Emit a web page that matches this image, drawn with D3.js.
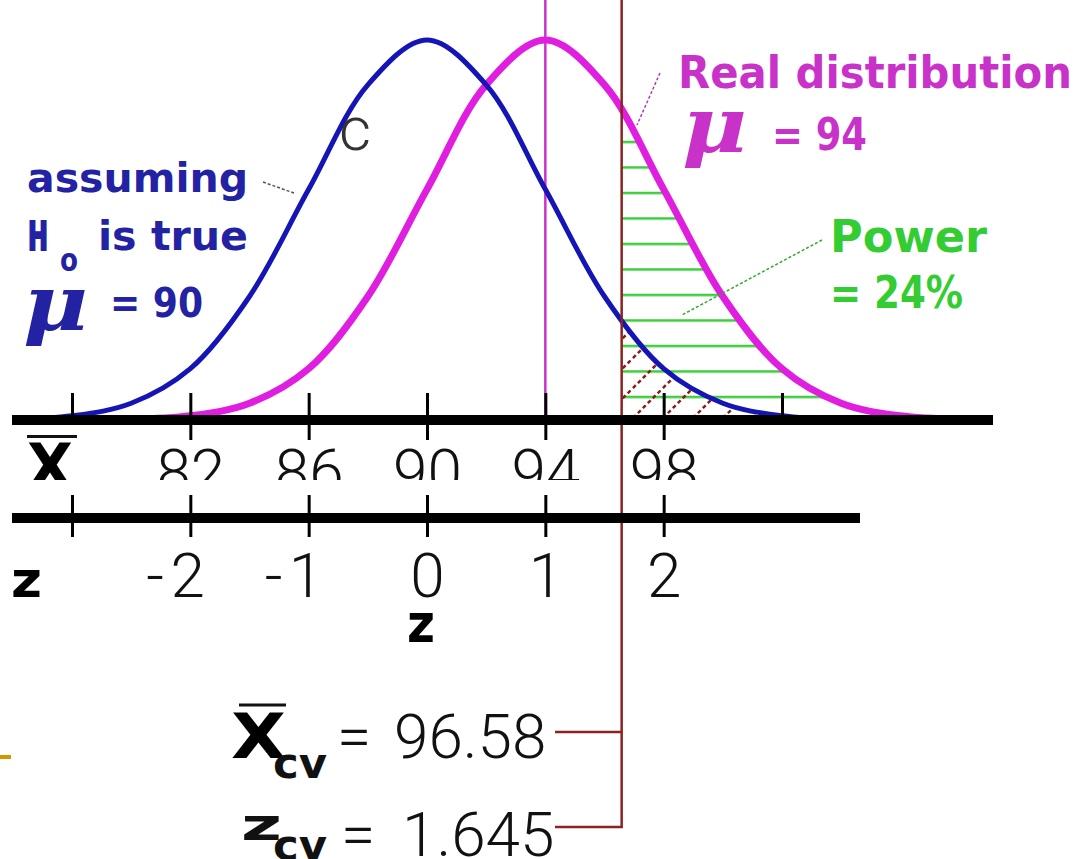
<!DOCTYPE html>
<html><head><meta charset="utf-8">
<script src="https://cdn.jsdelivr.net/npm/d3@7"></script>
<style>
html,body{margin:0;padding:0;background:#fff;}
svg{display:block;}
.thin{font-family:Roboto,"Liberation Sans",sans-serif;font-weight:300;}
.bold{font-family:"DejaVu Sans",sans-serif;font-weight:bold;}
.mu{font-family:"DejaVu Serif",serif;font-weight:bold;font-style:italic;}
</style></head><body>
<svg id="chart" width="1076" height="859"></svg>
<script>
// Sampling distribution of the mean under H0 vs. the real distribution
const nullMean = 90;
const realMean = 94;
const stdError = 4;
const zCritical = 1.645;
const xbarCritical = 96.58;
const powerPct = 24;

const xbarTicks = [78, 82, 86, 90, 94, 98, 102];
const xbarLabels = [82, 86, 90, 94, 98];
const zTicks = [-3, -2, -1, 0, 1, 2];
const zLabels = [-2, -1, 0, 1, 2];

// bell-curve height (share of the peak) at z offsets from each mean
const curveZ      = [-3.5, -3, -2.5, -2, -1.5, -1, -0.5, 0, 0.5, 1, 1.5, 2, 2.5, 3, 3.5];
const curveHeight = [0.002, 0.011, 0.044, 0.135, 0.325, 0.607, 0.882, 1, 0.882, 0.607, 0.325, 0.135, 0.044, 0.011, 0.002];

const W = 1076, H = 859;
const svg = d3.select('#chart');
const defs = svg.append('defs');

const x = d3.scaleLinear().domain([78, 102]).range([72, 782]);
const zx = v => x(nullMean + v * stdError);
const y = d3.scaleLinear().domain([0, 1]).range([420, 40]);
const yTop = 420, yBottom = 518;

const curvePts = mean => curveZ.map((z, i) => ({v: mean + z * stdError, h: curveHeight[i]}));
const line = d3.line().x(d => x(d.v)).y(d => y(d.h)).curve(d3.curveCatmullRom.alpha(0.5));
const area = d3.area().x(d => x(d.v)).y0(y(0)).y1(d => y(d.h)).curve(d3.curveCatmullRom.alpha(0.5));

const nullPts = curvePts(nullMean), realPts = curvePts(realMean);

defs.append('clipPath').attr('id', 'nullArea').append('path').attr('d', area(nullPts));
defs.append('clipPath').attr('id', 'realArea').append('path').attr('d', area(realPts));
defs.append('clipPath').attr('id', 'labelClip').append('rect')
  .attr('x', 0).attr('y', 0).attr('width', W).attr('height', 480);

// hatch patterns
const gp = defs.append('pattern').attr('id', 'greenHatch').attr('patternUnits', 'userSpaceOnUse')
  .attr('x', 0).attr('y', 395.75).attr('width', 40).attr('height', 25.5);
gp.append('rect').attr('x', 0).attr('y', 0).attr('width', 40).attr('height', 2.5).attr('fill', '#3ccc3c');

const bp = defs.append('pattern').attr('id', 'brownHatch').attr('patternUnits', 'userSpaceOnUse')
  .attr('x', 1).attr('y', 0).attr('width', 30).attr('height', 30);
bp.append('path').attr('d', 'M-3,33 L33,-3').attr('stroke', '#8b1c1c').attr('stroke-width', 2.5)
  .attr('stroke-dasharray', '4 3').attr('fill', 'none');

// power region (real distribution beyond the critical value)
svg.append('rect').attr('x', x(xbarCritical)).attr('y', 0)
  .attr('width', x(realMean + 3.5 * stdError) - x(xbarCritical)).attr('height', yTop)
  .attr('fill', 'url(#greenHatch)').attr('clip-path', 'url(#realArea)');
// alpha region (H0 distribution beyond the critical value)
svg.append('rect').attr('x', x(xbarCritical)).attr('y', 0)
  .attr('width', x(nullMean + 3.5 * stdError) - x(xbarCritical)).attr('height', yTop)
  .attr('fill', 'url(#brownHatch)').attr('clip-path', 'url(#nullArea)');

// mean of the real distribution
svg.append('line').attr('x1', x(realMean)).attr('x2', x(realMean)).attr('y1', 0).attr('y2', yTop)
  .attr('stroke', '#cc33cc').attr('stroke-width', 2.5);

// curves
svg.append('path').attr('d', line(realPts)).attr('fill', 'none').attr('stroke', '#e01ee0').attr('stroke-width', 7);
svg.append('path').attr('d', line(nullPts)).attr('fill', 'none').attr('stroke', '#1515b5').attr('stroke-width', 5);

// critical value line with its two callouts
const xc = x(xbarCritical);
svg.append('path').attr('d', `M${xc},0 V827 H555 M${xc},732 H555`)
  .attr('fill', 'none').attr('stroke', '#8b2323').attr('stroke-width', 2.5);

// X-bar axis (labels cut off along the lower edge of the row)
const topClip = svg.append('g').attr('clip-path', 'url(#labelClip)');
const topAxis = topClip.append('g').attr('transform', `translate(0,${yTop})`)
  .call(d3.axisBottom(x).tickValues(xbarTicks).tickSize(0)
    .tickFormat(d => xbarLabels.includes(d) ? d : ''));
topAxis.select('.domain').remove();
topAxis.selectAll('.tick line').attr('y1', -27).attr('y2', d => xbarLabels.includes(d) ? 20 : 0)
  .attr('stroke', '#000').attr('stroke-width', 3);
topAxis.selectAll('.tick text').attr('class', 'thin').attr('y', 73).attr('dy', null)
  .attr('font-size', 62).attr('fill', '#111');
topAxis.attr('font-family', null).attr('font-size', null);
svg.append('line').attr('x1', 12).attr('x2', 993).attr('y1', yTop).attr('y2', yTop)
  .attr('stroke', '#000').attr('stroke-width', 10);

// z axis
const zScale = d3.scaleLinear().domain([-3, 2]).range([zx(-3), zx(2)]);
const botAxis = svg.append('g').attr('transform', `translate(0,${yBottom})`)
  .call(d3.axisBottom(zScale).tickValues(zTicks).tickSize(0)
    .tickFormat(d => zLabels.includes(d) ? (d < 0 ? '-\u200a' + Math.abs(d) : String(d)) : ''));
botAxis.select('.domain').remove();
botAxis.selectAll('.tick line').attr('y1', -23).attr('y2', 19).attr('stroke', '#000').attr('stroke-width', 3);
botAxis.selectAll('.tick text').attr('class', 'thin').attr('y', 79).attr('dy', null)
  .attr('font-size', 62).attr('fill', '#111')
  .attr('text-anchor', d => d < 0 ? 'end' : 'middle')
  .attr('dx', d => d < 0 ? 14 : 0);
botAxis.attr('font-family', null).attr('font-size', null);
svg.append('line').attr('x1', 12).attr('x2', 860).attr('y1', yBottom).attr('y2', yBottom)
  .attr('stroke', '#000').attr('stroke-width', 10);

// axis names
topClip.append('text').attr('class', 'bold').attr('x', 27).attr('y', 488).attr('font-size', 62)
  .attr('textLength', 46).attr('lengthAdjust', 'spacingAndGlyphs').text('X');
svg.append('line').attr('x1', 27).attr('x2', 77).attr('y1', 436.5).attr('y2', 436.5)
  .attr('stroke', '#111').attr('stroke-width', 3);
svg.append('text').attr('class', 'bold').attr('x', 11).attr('y', 597).attr('font-size', 50)
  .attr('textLength', 31).attr('lengthAdjust', 'spacingAndGlyphs').text('z');
svg.append('text').attr('class', 'bold').attr('x', 407).attr('y', 642).attr('font-size', 53)
  .attr('textLength', 28).attr('lengthAdjust', 'spacingAndGlyphs').text('z');

// stray letter
svg.append('text').attr('class', 'thin').attr('x', 339).attr('y', 150).attr('font-size', 62)
  .attr('fill', '#333').text('c');

function label(txt, xx, yy, size, len, cls, color) {
  return svg.append('text').attr('class', cls).attr('x', xx).attr('y', yy).attr('font-size', size)
    .attr('textLength', len).attr('lengthAdjust', 'spacingAndGlyphs').attr('fill', color).text(txt);
}

// H0 annotation
const blueTxt = '#2222a2';
label('assuming', 27, 192, 40, 221, 'bold', blueTxt);
label('H', 28, 250, 39, 20, 'bold', blueTxt)
  .attr('stroke', blueTxt).attr('stroke-width', 2.2).attr('paint-order', 'stroke');
label('o', 60, 271, 32, 18, 'bold', blueTxt);
label('is true', 98, 250, 40, 150, 'bold', blueTxt);
label('\u03bc', 23, 330, 77, 65, 'mu', blueTxt);
label('= ' + nullMean, 110, 317, 40, 93, 'bold', blueTxt);
svg.append('line').attr('x1', 263).attr('y1', 182).attr('x2', 294).attr('y2', 193)
  .attr('stroke', '#555').attr('stroke-width', 1.5).attr('stroke-dasharray', '3 2');

// real distribution annotation
const magTxt = '#c832c8';
label('Real distribution', 678, 88, 44, 394, 'bold', magTxt);
label('\u03bc', 682, 152, 77, 65, 'mu', magTxt);
label('= ' + realMean, 772, 150, 44, 95, 'bold', magTxt);
svg.append('line').attr('x1', 660).attr('y1', 73).attr('x2', 637).attr('y2', 125)
  .attr('stroke', '#b040b0').attr('stroke-width', 1.5).attr('stroke-dasharray', '3 2');

// power annotation
const grnTxt = '#33cc33';
label('Power', 830, 252, 44, 157, 'bold', grnTxt);
label('= ' + powerPct + '%', 830, 308, 44, 133, 'bold', grnTxt);
svg.append('line').attr('x1', 822).attr('y1', 240).attr('x2', 682).attr('y2', 315)
  .attr('stroke', '#33aa33').attr('stroke-width', 1.5).attr('stroke-dasharray', '3 2');

// critical values
svg.append('text').attr('class', 'bold').attr('x', 231).attr('y', 758).attr('font-size', 62)
  .attr('textLength', 55).attr('lengthAdjust', 'spacingAndGlyphs').text('X');
svg.append('line').attr('x1', 239).attr('x2', 286).attr('y1', 705).attr('y2', 705)
  .attr('stroke', '#111').attr('stroke-width', 3);
label('cv', 273, 778, 42, 54, 'bold', '#111');
svg.append('text').attr('class', 'thin').attr('x', 337).attr('y', 758).attr('font-size', 62).attr('fill', '#111').text('=');
svg.append('text').attr('class', 'thin').attr('x', 394).attr('y', 758).attr('font-size', 62).attr('fill', '#111')
  .text(xbarCritical.toFixed(2));
label('z', 241, 840, 44, 41, 'bold', '#111');
label('cv', 273, 860, 42, 54, 'bold', '#111');
svg.append('text').attr('class', 'thin').attr('x', 341).attr('y', 856).attr('font-size', 62).attr('fill', '#111').text('=');
svg.append('text').attr('class', 'thin').attr('x', 402).attr('y', 856).attr('font-size', 62).attr('fill', '#111')
  .text(zCritical.toFixed(3));

// slide bullet
svg.append('rect').attr('x', 0).attr('y', 755).attr('width', 11).attr('height', 4).attr('fill', '#cc9900');
</script>
</body></html>
